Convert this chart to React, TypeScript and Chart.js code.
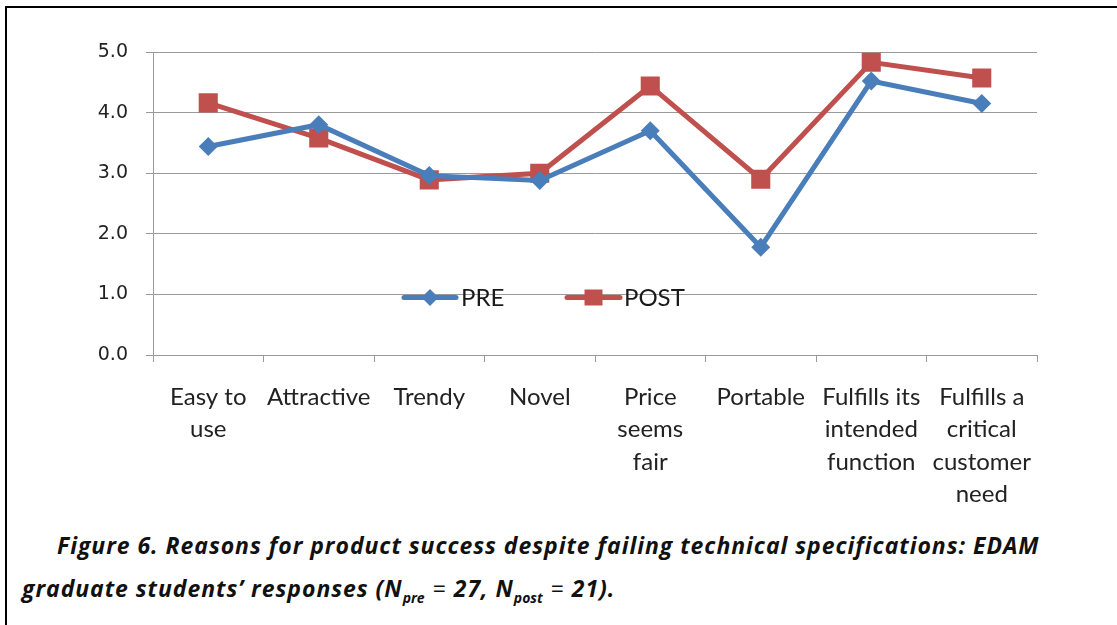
import React, { useEffect, useRef } from 'react';
import { Chart, registerables } from 'chart.js';

Chart.register(...registerables);

const CATEGORIES: string[][] = [
  ['Easy to', 'use'],
  ['Attractive'],
  ['Trendy'],
  ['Novel'],
  ['Price', 'seems', 'fair'],
  ['Portable'],
  ['Fulfills its', 'intended', 'function'],
  ['Fulfills a', 'critical', 'customer', 'need'],
];
const PRE = [3.44, 3.8, 2.96, 2.88, 3.7, 1.78, 4.52, 4.15];
const POST = [4.16, 3.58, 2.89, 3.0, 4.44, 2.9, 4.83, 4.57];
const SERIES_NAMES = ['PRE', 'POST'];
const Y_MIN = 0;
const Y_MAX = 5;
const Y_STEP = 1;

const BLUE = '#4A7EBB';
const RED = '#C0504D';

const inlineLegend = {
  id: 'inlineLegend',
  afterDraw(chart: any, _args: any, opts: any) {
    const ctx = chart.ctx as CanvasRenderingContext2D;
    const y = opts.y;
    chart.data.datasets.forEach((ds: any, i: number) => {
      const it = opts.items[i];
      ctx.save();
      ctx.strokeStyle = ds.borderColor;
      ctx.lineWidth = 5;
      ctx.lineCap = 'round';
      ctx.beginPath();
      ctx.moveTo(it.x0, y);
      ctx.lineTo(it.x1, y);
      ctx.stroke();
      const cx = (it.x0 + it.x1) / 2;
      ctx.fillStyle = ds.backgroundColor;
      ctx.beginPath();
      if (ds.pointStyle === 'rectRot') {
        const r = 8.5;
        ctx.moveTo(cx, y - r);
        ctx.lineTo(cx + r, y);
        ctx.lineTo(cx, y + r);
        ctx.lineTo(cx - r, y);
        ctx.closePath();
      } else {
        ctx.rect(cx - 9, y - 8, 18, 16);
      }
      ctx.fill();
      ctx.fillStyle = '#1a1a1a';
      ctx.font = opts.font;
      ctx.textAlign = 'left';
      ctx.textBaseline = 'middle';
      ctx.fillText(ds.label, it.textX, y + 1);
      ctx.restore();
    });
  },
};

export default function App() {
  const ref = useRef<HTMLCanvasElement>(null);

  useEffect(() => {
    const chart = new Chart(ref.current as HTMLCanvasElement, {
      type: 'line',
      data: {
        labels: CATEGORIES,
        datasets: [
          {
            label: SERIES_NAMES[0],
            data: PRE,
            borderColor: BLUE,
            backgroundColor: BLUE,
            borderWidth: 5,
            pointStyle: 'rectRot',
            pointRadius: 9.5,
            pointHoverRadius: 9.5,
            pointBorderWidth: 0,
            tension: 0,
          },
          {
            label: SERIES_NAMES[1],
            data: POST,
            borderColor: RED,
            backgroundColor: RED,
            borderWidth: 5,
            pointStyle: 'rect',
            pointRadius: 13.5,
            pointHoverRadius: 13.5,
            pointBorderWidth: 0,
            tension: 0,
          },
        ],
      },
      options: {
        responsive: false,
        animation: false,
        layout: { padding: { left: 0, right: 80, top: 52, bottom: 0 } },
        plugins: {
          legend: { display: false },
          tooltip: { enabled: false },
          inlineLegend: {
            y: 297.5,
            font: '24px Lato',
            items: [
              { x0: 404, x1: 456, textX: 461 },
              { x0: 567, x1: 620, textX: 624 },
            ],
          },
        } as any,
        scales: {
          x: {
            offset: true,
            afterFit: (s: any) => {
              s.height = 520 - 355;
            },
            grid: {
              offset: true,
              drawOnChartArea: false,
              drawTicks: true,
              tickLength: 7,
              color: '#9a9a9a',
            },
            border: { color: '#9a9a9a', width: 1 },
            ticks: {
              color: '#222',
              padding: 19,
              maxRotation: 0,
              autoSkip: false,
              font: { family: 'Lato', size: 24, lineHeight: 1.35 },
            },
          },
          y: {
            min: Y_MIN,
            max: Y_MAX,
            afterFit: (s: any) => {
              s.width = 153;
            },
            grid: {
              color: '#9a9a9a',
              lineWidth: 1,
              tickLength: 7,
            },
            border: { color: '#9a9a9a', width: 1 },
            ticks: {
              stepSize: Y_STEP,
              color: '#222',
              padding: 18,
              font: { family: 'DejaVu Sans', size: 19 },
              callback: (v: any) => Number(v).toFixed(1),
            },
          },
        },
      },
      plugins: [inlineLegend as any],
    });
    return () => chart.destroy();
  }, []);

  const eq = { fontStyle: 'normal', fontWeight: 400 as const, margin: '0 8px', letterSpacing: 0 };
  const sub = { fontSize: 14, verticalAlign: '-6px', letterSpacing: 0 };

  return (
    <div
      style={{
        position: 'fixed',
        left: 0,
        top: 0,
        width: 1117,
        height: 625,
        background: '#fff',
        overflow: 'hidden',
      }}
    >
      <div
        style={{
          position: 'absolute',
          left: 5,
          top: 6,
          right: -20,
          bottom: -20,
          borderTop: '2px solid #000',
          borderLeft: '2px solid #000',
        }}
      />
      <canvas
        ref={ref}
        width={1117}
        height={520}
        style={{ position: 'absolute', left: 0, top: 0, display: 'block' }}
      />
      <div
        style={{
          position: 'absolute',
          left: 22,
          top: 524,
          whiteSpace: 'nowrap',
          fontFamily: '"Open Sans", sans-serif',
          fontWeight: 700,
          fontStyle: 'italic',
          fontSize: 23,
          letterSpacing: 0.95,
          lineHeight: '43px',
          color: '#111',
          textIndent: 35,
        }}
      >
        Figure 6. Reasons for product success despite failing technical specifications: EDAM
        <br />
        graduate students’ responses (N<span style={sub}>pre</span>
        <span style={eq}>=</span>27, N<span style={sub}>post</span>
        <span style={eq}>=</span>21).
      </div>
    </div>
  );
}
